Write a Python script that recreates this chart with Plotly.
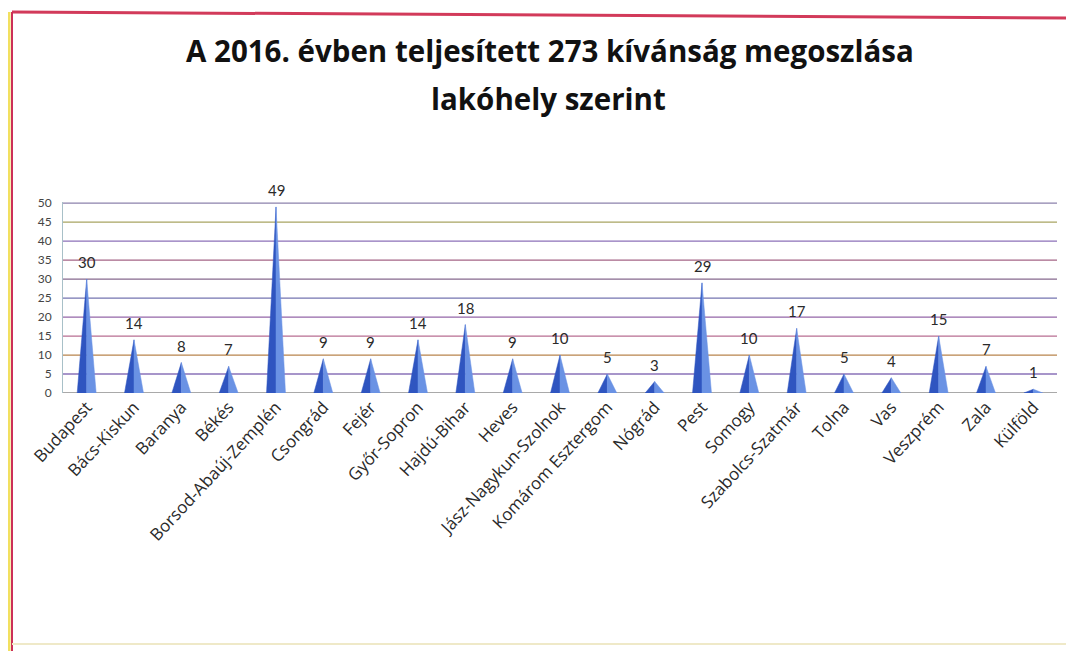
import plotly.graph_objects as go

categories = ["Budapest", "Bács-Kiskun", "Baranya", "Békés", "Borsod-Abaúj-Zemplén",
              "Csongrád", "Fejér", "Győr-Sopron", "Hajdú-Bihar", "Heves",
              "Jász-Nagykun-Szolnok", "Komárom Esztergom", "Nógrád", "Pest", "Somogy",
              "Szabolcs-Szatmár", "Tolna", "Vas", "Veszprém", "Zala", "Külföld"]
values = [30, 14, 8, 7, 49, 9, 9, 14, 18, 9, 10, 5, 3, 29, 10, 17, 5, 4, 15, 7, 1]
y_ticks = [0, 5, 10, 15, 20, 25, 30, 35, 40, 45, 50]
title_lines = ["A 2016. évben teljesített 273 kívánság megoszlása", "lakóhely szerint"]

grid_colors = ["#8c8c8c", "#8a72b8", "#b8844c", "#b86e92", "#9466a8", "#7474b0",
               "#86688e", "#a46486", "#8c70b8", "#a8a462", "#8c82ac"]

# page offset caused by the default body margin
OFF = 8
W, H = 1074 - OFF, 651 - OFF
L, R, T, B = 63 - OFF, 1057 - OFF, 202 - OFF, 393 - OFF


def px(x):
    return (x - OFF - L) / (R - L)


def py(y):
    return (B - (y - OFF)) / (B - T)


fig = go.Figure()
hw = 0.2
for i, v in enumerate(values):
    fig.add_trace(go.Scatter(x=[i - hw, i, i, i - hw], y=[0, v, 0, 0], fill="toself",
                             fillcolor="#2f55c0", line=dict(color="#2f55c0", width=0.5),
                             mode="lines", hoverinfo="skip", showlegend=False))
    fig.add_trace(go.Scatter(x=[i, i + hw, i, i], y=[v, 0, 0, v], fill="toself",
                             fillcolor="#6a92e4", line=dict(color="#6a92e4", width=0.5),
                             mode="lines", hoverinfo="skip", showlegend=False))

annotations = []
for i, v in enumerate(values):
    annotations.append(dict(x=i, y=v, xref="x", yref="y", text=str(v), showarrow=False,
                            yanchor="middle", yshift=17,
                            font=dict(family="Lato", size=15, color="#2a2a2a")))

annotations.append(dict(x=px(550), y=py(50), xref="paper", yref="paper", text="<b>" + title_lines[0] + "</b>",
                        showarrow=False, xanchor="center", yanchor="middle",
                        font=dict(family="Open Sans", size=29.5, color="#111111")))
annotations.append(dict(x=px(548), y=py(98), xref="paper", yref="paper", text="<b>" + title_lines[1] + "</b>",
                        showarrow=False, xanchor="center", yanchor="middle",
                        font=dict(family="Open Sans", size=29.5, color="#111111")))

shapes = []
for t, c in zip(y_ticks, grid_colors):
    shapes.append(dict(type="line", xref="paper", yref="y", x0=0, x1=1, y0=t, y1=t,
                       line=dict(color=c, width=1.3), layer="below"))

# frame
shapes.append(dict(type="line", xref="paper", yref="paper", x0=px(12), x1=px(1074), y0=py(12), y1=py(18),
                   line=dict(color="#d23a5a", width=3)))
shapes.append(dict(type="line", xref="paper", yref="paper", x0=px(9), x1=px(9), y0=py(12), y1=py(651),
                   line=dict(color="#f2e060", width=3)))
shapes.append(dict(type="line", xref="paper", yref="paper", x0=px(12), x1=px(12), y0=py(12), y1=py(651),
                   line=dict(color="#cc3058", width=2)))
shapes.append(dict(type="line", xref="paper", yref="paper", x0=px(12), x1=px(1074), y0=py(644), y1=py(644),
                   line=dict(color="#efe9c8", width=2)))

fig.update_layout(
    width=W, height=H,
    margin=dict(l=L, r=W - R, t=T, b=H - B),
    paper_bgcolor="white", plot_bgcolor="white",
    showlegend=False,
    annotations=annotations,
    shapes=shapes,
    xaxis=dict(range=[-0.5, 20.5], tickmode="array", tickvals=list(range(len(categories))),
               ticktext=categories, tickangle=-47, showgrid=False, zeroline=False,
               tickfont=dict(family="Open Sans", size=17, color="#2a2a2a"), ticks=""),
    yaxis=dict(range=[0, 50.3], tickmode="array", tickvals=y_ticks, showgrid=False, zeroline=False,
               showline=True, linecolor="#a8c0c8", linewidth=1, ticklabelstandoff=8,
               tickfont=dict(family="Lato", size=12, color="#444444"), ticks=""),
)

fig.write_html("out.html")
